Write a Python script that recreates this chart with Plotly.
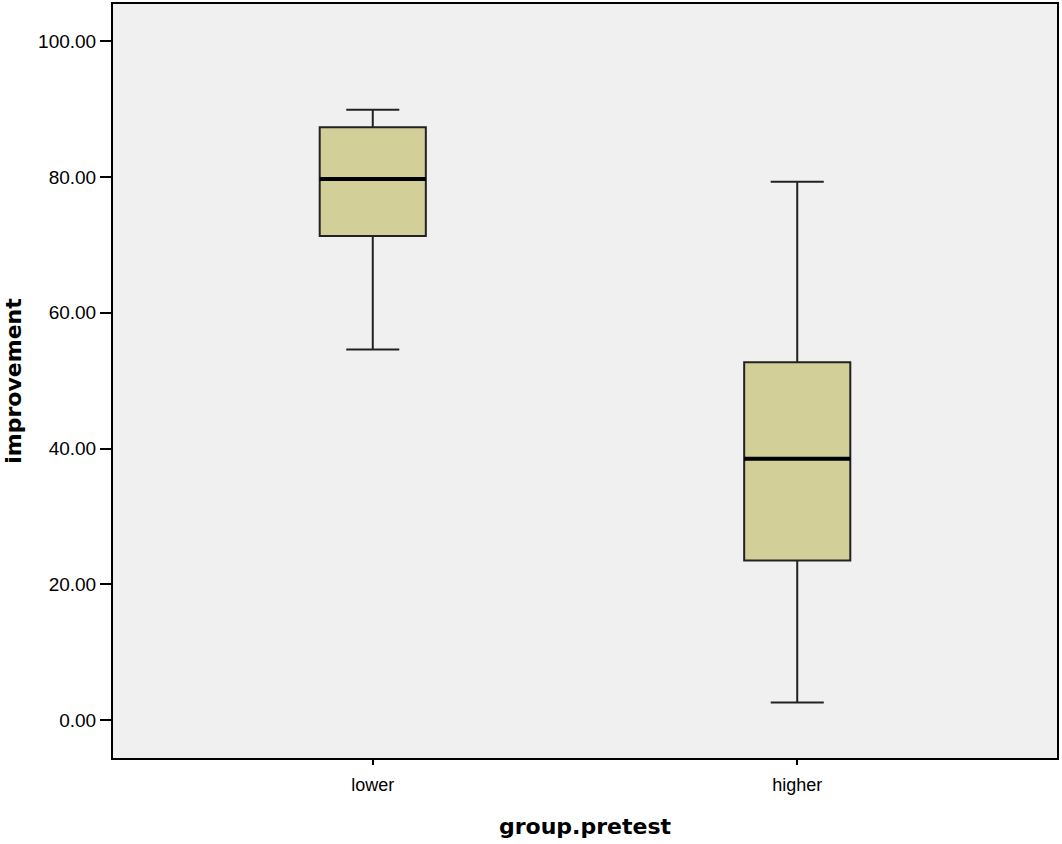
import plotly.graph_objects as go

# box plot summary
groups = ["lower", "higher"]
positions = [0, 1]
lower_whisker = [54.6, 2.6]
q1 = [71.3, 23.5]
median = [79.7, 38.5]
q3 = [87.3, 52.7]
upper_whisker = [89.9, 79.3]

BOX_W = 0.25
FILL = "#d3cf98"

fig = go.Figure()

for i, g in enumerate(groups):
    fig.add_trace(go.Box(
        x=[positions[i]],
        q1=[q1[i]], median=[median[i]], q3=[q3[i]],
        lowerfence=[lower_whisker[i]], upperfence=[upper_whisker[i]],
        name=g,
        width=BOX_W,
        whiskerwidth=0.5,
        fillcolor=FILL,
        line=dict(color="#222222", width=2),
        showlegend=False,
    ))
    # thicker median line, like SPSS draws it
    fig.add_trace(go.Scatter(
        x=[positions[i] - BOX_W / 2, positions[i] + BOX_W / 2],
        y=[median[i], median[i]],
        mode="lines",
        line=dict(color="black", width=4),
        hoverinfo="skip",
        showlegend=False,
    ))

fig.update_layout(
    width=1062, height=844,
    margin=dict(l=113, r=5, t=2, b=86),
    paper_bgcolor="white",
    plot_bgcolor="#f0f0f0",
    font=dict(family="Liberation Sans, Arial, sans-serif", color="black"),
)

fig.update_xaxes(
    range=[-0.612, 1.612],
    tickmode="array", tickvals=positions, ticktext=groups,
    ticks="outside", ticklen=5, tickwidth=1.5, tickcolor="black",
    ticklabelstandoff=4,
    tickfont=dict(size=18),
    showgrid=False, zeroline=False,
    showline=True, linecolor="black", linewidth=2, mirror=True,
    title=dict(text="<b>group.pretest</b>",
               font=dict(family="DejaVu Sans", size=22), standoff=25),
)

fig.update_yaxes(
    range=[-5.58, 105.47],
    tickmode="linear", tick0=0, dtick=20, tickformat=".2f",
    ticks="outside", ticklen=11, tickwidth=2, tickcolor="black",
    tickfont=dict(size=19),
    showgrid=False, zeroline=False,
    showline=True, linecolor="black", linewidth=2, mirror=True,
    title=dict(text="<b>improvement</b>",
               font=dict(family="DejaVu Sans", size=22), standoff=10),
)

# drop the browser's default body margin so the figure sits at the page corner
fig.write_html("out.html", config={"displayModeBar": False},
               post_script="document.body.style.margin='0';")
